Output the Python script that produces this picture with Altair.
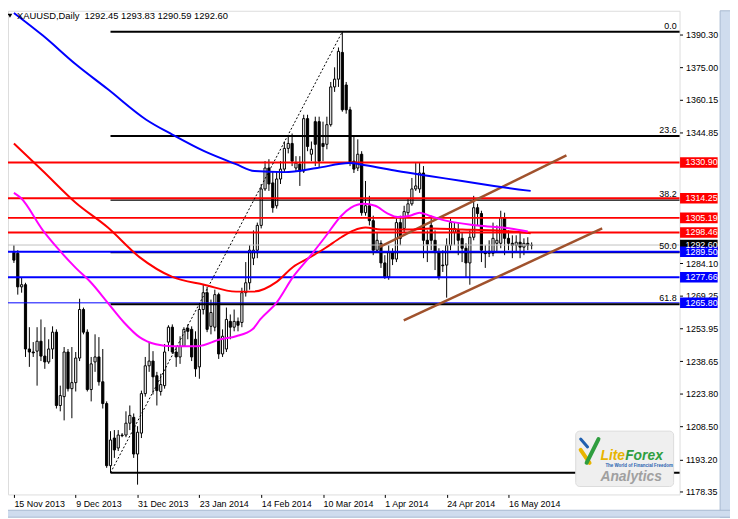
import altair as alt
import pandas as pd

# ---------------- data ----------------
opens = [1289.3, 1288.8, 1273.2, 1274.2, 1244.4, 1243.0, 1243.4, 1248.0, 1241.1, 1238.4,
         1244.4, 1252.2, 1218.2, 1222.3, 1243.0, 1226.0, 1228.8, 1240.2, 1262.7, 1252.2,
         1225.6, 1238.4, 1240.7, 1229.2, 1219.1, 1190.3, 1203.1, 1198.5, 1204.5, 1204.5,
         1210.0, 1212.7, 1195.7, 1205.4, 1223.7, 1236.6, 1238.8, 1232.0, 1224.7, 1227.4,
         1247.6, 1254.5, 1243.0, 1240.7, 1245.7, 1254.0, 1253.5, 1248.9, 1236.1, 1262.7,
         1270.5, 1254.9, 1254.5, 1269.6, 1242.1, 1244.4, 1257.2, 1254.5, 1257.2, 1256.7,
         1270.5, 1275.1, 1286.5, 1290.2, 1301.7, 1318.6, 1328.3, 1321.4, 1310.8, 1323.2,
         1327.8, 1337.4, 1339.7, 1328.3, 1330.1, 1326.9, 1351.2, 1334.7, 1349.8, 1349.8,
         1339.7, 1339.3, 1348.4, 1365.9, 1369.5, 1381.9, 1366.8, 1355.3, 1331.5, 1328.3,
         1334.7, 1307.6, 1310.8, 1303.9, 1290.2, 1293.4, 1284.3, 1277.8, 1289.3, 1286.1,
         1303.0, 1300.3, 1307.6, 1311.7, 1318.6, 1318.6, 1326.0, 1294.8, 1301.7, 1294.8,
         1289.3, 1283.3, 1283.3, 1292.5, 1298.5, 1299.4, 1295.7, 1291.1, 1284.3, 1296.2,
         1309.9, 1307.2, 1288.8, 1288.8, 1288.8, 1293.4, 1293.4, 1305.3, 1295.7, 1293.4,
         1292.5, 1293.9, 1291.6, 1293.4, 1292.45]
highs = [1292.5, 1290.2, 1277.4, 1275.1, 1254.5, 1247.6, 1254.5, 1258.1, 1254.5, 1248.9,
         1254.9, 1253.5, 1227.4, 1245.3, 1244.4, 1245.3, 1243.0, 1267.7, 1263.6, 1253.5,
         1240.7, 1251.2, 1249.9, 1244.4, 1220.1, 1206.3, 1206.8, 1206.8, 1205.4, 1215.5,
         1218.2, 1214.5, 1208.6, 1225.1, 1240.7, 1247.6, 1243.4, 1233.8, 1232.9, 1246.7,
         1255.4, 1255.8, 1245.7, 1250.3, 1254.5, 1255.8, 1254.9, 1252.6, 1265.0, 1274.2,
         1273.2, 1267.3, 1271.9, 1270.5, 1253.5, 1263.6, 1260.4, 1262.7, 1259.0, 1272.8,
         1284.7, 1292.5, 1299.4, 1303.0, 1320.9, 1331.5, 1332.4, 1326.9, 1326.9, 1331.5,
         1340.6, 1342.9, 1344.3, 1333.8, 1333.8, 1353.0, 1353.0, 1340.6, 1352.1, 1352.1,
         1349.8, 1352.1, 1368.2, 1375.0, 1384.2, 1391.5, 1368.2, 1356.7, 1342.9, 1341.6,
         1336.1, 1322.3, 1315.4, 1306.2, 1298.5, 1294.8, 1287.9, 1292.5, 1291.1, 1304.9,
         1306.2, 1310.8, 1314.0, 1323.7, 1330.6, 1330.6, 1329.2, 1299.4, 1306.2, 1299.4,
         1291.1, 1290.2, 1295.7, 1304.9, 1303.0, 1303.0, 1298.5, 1293.4, 1299.4, 1315.4,
         1311.7, 1308.5, 1292.5, 1294.8, 1303.0, 1301.7, 1308.5, 1307.6, 1299.4, 1297.1,
         1297.1, 1298.5, 1295.7, 1296.2, 1293.83]
lows = [1284.3, 1269.6, 1270.5, 1240.7, 1236.1, 1240.7, 1227.4, 1238.8, 1235.2, 1237.5,
        1239.8, 1216.8, 1215.5, 1211.3, 1224.7, 1212.3, 1224.7, 1238.8, 1251.2, 1224.7,
        1220.1, 1233.8, 1227.4, 1216.8, 1189.3, 1187.0, 1193.9, 1197.1, 1203.5, 1203.5,
        1206.8, 1193.9, 1181.5, 1203.1, 1222.3, 1233.8, 1223.3, 1218.2, 1222.8, 1226.0,
        1243.4, 1242.1, 1236.1, 1237.5, 1245.3, 1248.9, 1238.8, 1231.5, 1230.6, 1260.4,
        1252.2, 1251.2, 1252.6, 1239.8, 1240.7, 1243.0, 1248.9, 1252.6, 1252.6, 1254.5,
        1268.7, 1271.9, 1283.3, 1286.5, 1300.3, 1317.7, 1317.7, 1307.6, 1309.5, 1320.9,
        1326.0, 1335.1, 1329.2, 1326.9, 1320.0, 1326.0, 1336.1, 1331.5, 1329.2, 1328.3,
        1331.5, 1337.0, 1347.5, 1363.6, 1365.9, 1354.4, 1353.5, 1329.2, 1326.0, 1326.9,
        1306.2, 1306.2, 1301.7, 1287.9, 1289.3, 1282.0, 1276.9, 1276.5, 1283.3, 1284.7,
        1292.5, 1298.5, 1306.2, 1310.8, 1317.7, 1316.8, 1286.5, 1284.7, 1290.2, 1281.0,
        1276.5, 1280.1, 1268.2, 1290.2, 1292.5, 1287.9, 1284.7, 1277.4, 1274.2, 1294.8,
        1301.7, 1284.7, 1282.0, 1287.0, 1287.4, 1289.3, 1291.1, 1287.9, 1290.2, 1286.5,
        1289.3, 1286.5, 1287.9, 1290.2, 1290.59]
closes = [1285.6, 1273.2, 1274.2, 1244.4, 1243.0, 1242.6, 1248.0, 1241.1, 1238.4, 1244.4,
          1252.2, 1218.2, 1222.8, 1243.0, 1226.0, 1228.8, 1240.2, 1262.7, 1252.2, 1225.6,
          1237.5, 1240.7, 1229.2, 1219.1, 1190.3, 1202.2, 1197.6, 1204.5, 1204.2, 1210.0,
          1213.6, 1195.7, 1205.8, 1223.7, 1236.6, 1238.8, 1231.5, 1225.1, 1227.9, 1243.0,
          1254.5, 1243.0, 1240.7, 1245.7, 1253.5, 1252.6, 1240.7, 1235.2, 1262.7, 1270.5,
          1253.5, 1261.3, 1269.6, 1242.1, 1250.3, 1258.1, 1254.5, 1257.2, 1255.4, 1270.5,
          1275.1, 1290.2, 1290.2, 1301.7, 1318.6, 1328.3, 1320.9, 1309.9, 1323.2, 1327.8,
          1337.4, 1339.7, 1331.5, 1330.6, 1326.9, 1351.2, 1338.3, 1337.0, 1339.3, 1331.5,
          1338.3, 1348.4, 1365.9, 1369.5, 1382.4, 1355.3, 1355.3, 1330.6, 1327.8, 1334.7,
          1307.6, 1310.8, 1303.9, 1290.2, 1294.8, 1284.3, 1277.8, 1289.3, 1286.1, 1303.0,
          1295.7, 1308.1, 1311.7, 1318.6, 1320.0, 1326.0, 1294.8, 1293.0, 1294.8, 1289.3,
          1277.8, 1283.0, 1292.5, 1303.0, 1300.3, 1294.8, 1291.1, 1284.3, 1296.2, 1309.9,
          1307.2, 1290.2, 1288.6, 1289.7, 1295.7, 1294.8, 1305.3, 1295.7, 1293.4, 1292.5,
          1293.9, 1291.6, 1293.4, 1292.5, 1292.60]

date_labels = ["15 Nov 2013", "9 Dec 2013", "31 Dec 2013", "23 Jan 2014", "14 Feb 2014",
               "10 Mar 2014", "1 Apr 2014", "24 Apr 2014", "16 May 2014"]
date_label_bars = [0, 16, 32, 48, 64, 80, 96, 112, 128]

# price scale labels that are not hidden behind the coloured price boxes
price_ticks = [1390.30, 1375.00, 1360.15, 1344.85, 1284.10,
               1269.25, 1253.95, 1238.65, 1223.80, 1208.50, 1193.20, 1178.35]

blue_ma_bar = [0, 7.5, 16, 24.25, 34.25, 41, 49.25, 57.5, 62.25, 70, 78.5, 86.75, 91,
               99.25, 107.5, 116, 124.25, 133.75]
blue_ma_val = [1400.2, 1389.7, 1376.4, 1364.9, 1350.7, 1343.8, 1336.1, 1330.1, 1326.9,
               1326.4, 1328.3, 1330.6, 1329.6, 1326.9, 1324.6, 1322.3, 1320.0, 1317.7]

red_ma_bar = [0, 7.5, 16, 24.25, 32.5, 41, 49.25, 57.5, 62, 68, 72.25, 76.25, 80.5, 84.75,
              88, 91, 95, 102, 108, 116, 124, 133.75]
red_ma_val = [1339.7, 1326.9, 1312.2, 1300.8, 1287.0, 1277.8, 1274.2, 1271.0, 1271.0,
              1275.5, 1282.4, 1286.5, 1291.1, 1296.2, 1299.4, 1300.7, 1299.8, 1299.8,
              1300.3, 1299.8, 1299.4, 1298.1]

mag_ma_bar = [0, 1.75, 7.5, 11.75, 16, 20, 24.25, 28.5, 32.5, 36.75, 41, 47.5, 53.5, 57.5,
              61.75, 63.75, 68, 72.25, 76.25, 80.5, 84.75, 87.25, 90.5, 93.5, 96.75, 99.25,
              102.5, 105, 107.5, 111.75, 120, 128.5, 133]
mag_ma_val = [1316.8, 1314.5, 1299.4, 1290.2, 1282.0, 1275.1, 1265.9, 1256.7, 1249.9,
              1246.6, 1245.7, 1245.7, 1248.9, 1250.3, 1253.5, 1258.1, 1265.9, 1277.8,
              1286.5, 1296.2, 1306.2, 1309.9, 1311.7, 1310.8, 1307.2, 1305.6, 1306.2,
              1307.6, 1306.2, 1303.9, 1301.7, 1300.3, 1298.9]

red_levels = [1330.90, 1314.25, 1305.19, 1298.46]
blue_levels_thick = [1289.50, 1277.66]
blue_levels_thin = [1265.80]
last_price = 1292.60

fib_names = ["0.0", "23.6", "38.2", "50.0", "61.8", "100.0"]
fib_prices = [1391.5, 1343.2, 1313.4, 1289.3, 1265.1, 1187.0]
fib_start_bar = 25

trend_bars = [25, 85]
trend_prices = [1187.0, 1391.5]

chan_up_bars = [94.7, 143.0]
chan_up_prices = [1291.7, 1334.2]
chan_lo_bars = [100.9, 152.25]
chan_lo_prices = [1257.7, 1300.3]

title_text = "XAUUSD,Daily\u00a0 1292.45 1293.83 1290.59 1292.60"

# ---------------- chart ----------------
PLOT_W, PLOT_H = 679, 489
FONT = "Liberation Sans"
FS = 9

candles = pd.DataFrame({"bar": list(range(len(opens))), "open": opens, "high": highs,
                        "low": lows, "close": closes})

xs = alt.Scale(domain=[-0.25, 171.0], nice=False, zero=False)
ys = alt.Scale(domain=[1176.96, 1401.2], nice=False, zero=False)

label_expr = ("[" + ",".join(f"'{d}'" for d in date_labels) + "][indexof(["
              + ",".join(str(b) for b in date_label_bars) + "], datum.value)]")

x_axis = alt.Axis(values=date_label_bars, labelExpr=label_expr, title=None, grid=False,
                  domain=False, ticks=True, tickSize=3, tickColor="black", labelAlign="left",
                  labelBaseline="top", labelPadding=2, labelFlush=False, labelOverlap=False,
                  labelFont=FONT, labelFontSize=FS, labelColor="black", orient="bottom")
y_axis = alt.Axis(values=price_ticks, format=".2f", title=None, grid=False, domain=False,
                  ticks=True, tickSize=3, tickColor="black", labelPadding=3, orient="right",
                  labelFont=FONT, labelFontSize=FS, labelColor="black", labelOverlap=False,
                  labelFlush=False)


def X(field):
    return alt.X(field, scale=xs, axis=x_axis)


def Y(field):
    return alt.Y(field, scale=ys, axis=y_axis)


wicks = alt.Chart(candles).mark_rule(color="black", strokeWidth=1).encode(
    x=X("bar:Q"), y=Y("low:Q"), y2="high:Q")
bodies = alt.Chart(candles).mark_bar(size=2.2, stroke="black", strokeWidth=1).encode(
    x=X("bar:Q"), y=Y("open:Q"), y2="close:Q",
    fill=alt.condition("datum.close >= datum.open", alt.value("white"), alt.value("black")),
)


def hlines(values, color, width):
    return alt.Chart(pd.DataFrame({"price": values})).mark_rule(
        color=color, strokeWidth=width).encode(y=Y("price:Q"))


gray_line = hlines([last_price], "#c0c0c0", 1)
red_lines = hlines(red_levels, "#ff0000", 2)
blue_thick = hlines(blue_levels_thick, "#0000ff", 2)
blue_thin = hlines(blue_levels_thin, "#0000ff", 1)

fib_df = pd.DataFrame({"level": fib_names, "price": fib_prices,
                       "start": [fib_start_bar] * len(fib_names)})
fib_thick = alt.Chart(fib_df).transform_filter("datum.level != '38.2'").mark_rule(
    color="black", strokeWidth=2).encode(
    x=X("start:Q"), x2=alt.value(PLOT_W), y=Y("price:Q"))
fib_thin = alt.Chart(fib_df).transform_filter("datum.level == '38.2'").mark_rule(
    color="black", strokeWidth=1.2).encode(
    x=X("start:Q"), x2=alt.value(PLOT_W), y=Y("price:Q"))
fib_text = alt.Chart(fib_df).transform_filter("datum.level != '100.0'").mark_text(
    align="right", baseline="bottom", dy=-1, font=FONT, fontSize=FS, color="black").encode(
    x=alt.value(PLOT_W - 3), y=Y("price:Q"), text="level:N")

trend = alt.Chart(pd.DataFrame({"bar": trend_bars, "price": trend_prices})).mark_line(
    color="black", strokeWidth=1, strokeDash=[2, 2]).encode(x=X("bar:Q"), y=Y("price:Q"))

chan_df = pd.DataFrame({
    "bar": chan_up_bars + chan_lo_bars,
    "price": chan_up_prices + chan_lo_prices,
    "line": ["upper"] * 2 + ["lower"] * 2,
})
channel = alt.Chart(chan_df).mark_line(color="#a0522d", strokeWidth=2.5).encode(
    x=X("bar:Q"), y=Y("price:Q"), detail="line:N")


def ma(bars, vals, color):
    return alt.Chart(pd.DataFrame({"bar": bars, "price": vals})).mark_line(
        color=color, strokeWidth=2, interpolate="monotone").encode(
        x=X("bar:Q"), y=Y("price:Q"))


ma_blue = ma(blue_ma_bar, blue_ma_val, "#0000ff")
ma_red = ma(red_ma_bar, red_ma_val, "#ff0000")
ma_mag = ma(mag_ma_bar, mag_ma_val, "#ff00ff")

box_prices = red_levels + [last_price] + blue_levels_thick + blue_levels_thin
box_kind = ["red"] * len(red_levels) + ["last"] + ["blue"] * (len(blue_levels_thick) + len(blue_levels_thin))
box_df = pd.DataFrame({"price": box_prices, "kind": box_kind,
                       "txt": [f"{p:.2f}" for p in box_prices]})
BOX = "M-1,-0.28L1,-0.28L1,0.28L-1,0.28Z"
boxes = alt.Chart(box_df).mark_point(shape=BOX, size=1444, filled=True, opacity=1,
                                     strokeWidth=0).encode(
    x=alt.value(698.5), y=Y("price:Q"),
    color=alt.Color("kind:N", scale=alt.Scale(domain=["red", "last", "blue"],
                                              range=["#ff0000", "#000000", "#0000ff"]),
                    legend=None))
box_text = alt.Chart(box_df).mark_text(align="left", baseline="middle", font=FONT,
                                       fontSize=FS, color="white").encode(
    x=alt.value(685), y=Y("price:Q"), text="txt:N")

one = pd.DataFrame({"a": [0]})
title = alt.Chart(one).mark_text(text=title_text, align="left", baseline="middle",
                                 font=FONT, fontSize=9.5, color="black").encode(
    x=alt.value(9), y=alt.value(5))
tri = alt.Chart(one).mark_point(shape="triangle-down", filled=True, color="black",
                                size=22, opacity=1).encode(x=alt.value(2), y=alt.value(5))

# LiteForex logo
logo_box = alt.Chart(one).mark_rect(fill="#efefef", stroke="#dcdcdc", strokeWidth=1,
                                    cornerRadius=4).encode(
    x=alt.value(574), x2=alt.value(673), y=alt.value(425), y2=alt.value(481))
icon_y = alt.Chart(one).mark_rule(color="#e8b400", strokeWidth=4, strokeCap="round").encode(
    x=alt.value(579), x2=alt.value(588), y=alt.value(444), y2=alt.value(457))
icon_g = alt.Chart(one).mark_rule(color="#2f9e3f", strokeWidth=4, strokeCap="round").encode(
    x=alt.value(585), x2=alt.value(597), y=alt.value(457), y2=alt.value(433))
icon_b = alt.Chart(one).mark_rule(color="#1f5fb0", strokeWidth=3, strokeCap="round").encode(
    x=alt.value(579), x2=alt.value(586), y=alt.value(433), y2=alt.value(441))
logo_lite = alt.Chart(one).mark_text(text="Lite", align="left", baseline="alphabetic",
                                     font=FONT, fontSize=14, fontStyle="italic",
                                     fontWeight="bold", color="#e8b400").encode(
    x=alt.value(599), y=alt.value(454))
logo_forex = alt.Chart(one).mark_text(text="Forex", align="left", baseline="alphabetic",
                                      font=FONT, fontSize=14, fontStyle="italic",
                                      fontWeight="bold", color="#2f9e3f").encode(
    x=alt.value(624), y=alt.value(454))
logo_tag = alt.Chart(one).mark_text(text="The World of Financial Freedom", align="left",
                                    baseline="middle", font=FONT, fontSize=4.5,
                                    fontWeight="bold", color="#1f5fb0").encode(
    x=alt.value(604), y=alt.value(460))
logo_an = alt.Chart(one).mark_text(text="Analytics", align="left", baseline="alphabetic",
                                   font=FONT, fontSize=14, fontStyle="italic",
                                   fontWeight="bold", color="#a0a0a0").encode(
    x=alt.value(599), y=alt.value(475))

# window frame strips
frame_r = alt.Chart(one).mark_rect(fill="#cfdcee", stroke="#a8b9d0", strokeWidth=1).encode(
    x=alt.value(720), x2=alt.value(731), y=alt.value(0), y2=alt.value(512))
frame_b = alt.Chart(one).mark_rect(fill="#cfdcee", stroke="#a8b9d0", strokeWidth=1).encode(
    x=alt.value(-1), x2=alt.value(731), y=alt.value(505), y2=alt.value(512))

chart = alt.layer(
    wicks, bodies,
    gray_line, blue_thin, fib_thick, fib_thin, red_lines, blue_thick,
    trend, channel, ma_blue, ma_red, ma_mag,
    fib_text, boxes, box_text, title, tri,
    logo_box, icon_y, icon_g, icon_b, logo_lite, logo_forex, logo_tag, logo_an,
    frame_r, frame_b,
).properties(
    width=PLOT_W, height=PLOT_H,
    padding={"left": 0, "top": 0, "right": 51, "bottom": 22},
    autosize=alt.AutoSizeParams(type="none"),
).configure_view(stroke="black", strokeWidth=1).configure(background="white")

chart.save("out.html", embed_options={"renderer": "svg", "actions": False})
